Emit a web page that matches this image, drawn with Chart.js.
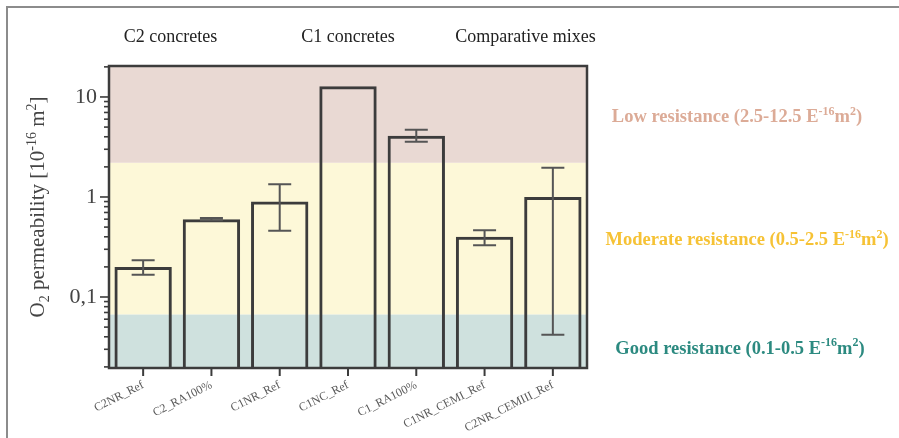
<!DOCTYPE html>
<html>
<head>
<meta charset="utf-8">
<script src="https://cdn.jsdelivr.net/npm/chart.js@4.4.1/dist/chart.umd.min.js"></script>
<style>
  html, body { margin: 0; padding: 0; background: #ffffff; }
  canvas { display: block; }
</style>
</head>
<body>
<canvas id="chart" width="899" height="438"></canvas>
<script>
// Mixes and their O2 permeability (10^-16 m^2)
const categories = ['C2NR_Ref', 'C2_RA100%', 'C1NR_Ref', 'C1NC_Ref', 'C1_RA100%', 'C1NR_CEMI_Ref', 'C2NR_CEMIII_Ref'];
const permeability = [0.20, 0.60, 0.90, 12.8, 4.1, 0.40, 1.0];
const errorLow  = [0.167, 0.585, 0.46, null, 3.57, 0.33, 0.042];
const errorHigh = [0.233, 0.615, 1.34, null, 4.70, 0.465, 1.96];

// Log axis ticks (labelled decades + minor marks)
const yTickValues = [0.02, 0.03, 0.04, 0.05, 0.06, 0.07, 0.08, 0.09,
                     0.1, 0.2, 0.3, 0.4, 0.5, 0.6, 0.7, 0.8, 0.9,
                     1, 2, 3, 4, 5, 6, 7, 8, 9, 10, 20];
const yTickLabels = { '0.1': '0,1', '1': '1', '10': '10' };
const yMin = 0.0195, yMax = 20.4;

// Resistance classes: shaded band limits
const bandLimits = [0.067, 2.2];
const bandColors = ['#cfe1de', '#fdf8d8', '#e9d9d3'];

// Group headings above the plot, placed at fractional category positions
const groupLabels = ['C2 concretes', 'C1 concretes', 'Comparative mixes'];
const groupPositions = [0.4, 3.0, 5.6];

// Class descriptions on the right, at a value on the log axis
const classTexts = [
  [{ t: 'Low resistance (2.5-12.5 E' }, { t: '-16', s: 'sup' }, { t: 'm' }, { t: '2', s: 'sup' }, { t: ')' }],
  [{ t: 'Moderate resistance (0.5-2.5 E' }, { t: '-16', s: 'sup' }, { t: 'm' }, { t: '2', s: 'sup' }, { t: ')' }],
  [{ t: 'Good resistance (0.1-0.5 E' }, { t: '-16', s: 'sup' }, { t: 'm' }, { t: '2', s: 'sup' }, { t: ')' }]
];
const classValues = [6.4, 0.38, 0.031];
const classCenters = [737, 747, 740];
const classColors = ['#dcab97', '#f6c235', '#2c8a80'];

const yTitle = [{ t: 'O' }, { t: '2', s: 'sub' }, { t: ' permeability [10' }, { t: '-16', s: 'sup' }, { t: ' m' }, { t: '2', s: 'sup' }, { t: ']' }];

const SERIF = "'Liberation Serif', 'Times New Roman', serif";
const INK = '#3c3c3c';

function drawRich(ctx, parts, x, y, size, weight, color, align) {
  const base = `${weight} ${size}px ${SERIF}`;
  const small = `${weight} ${Math.round(size * 0.66)}px ${SERIF}`;
  let w = 0;
  parts.forEach(p => { ctx.font = p.s ? small : base; w += ctx.measureText(p.t).width; });
  let cx = align === 'center' ? x - w / 2 : x;
  ctx.fillStyle = color;
  ctx.textAlign = 'left';
  ctx.textBaseline = 'alphabetic';
  parts.forEach(p => {
    ctx.font = p.s ? small : base;
    const dy = p.s === 'sup' ? -size * 0.4 : (p.s === 'sub' ? size * 0.25 : 0);
    ctx.fillText(p.t, cx, y + dy);
    cx += ctx.measureText(p.t).width;
  });
}

const decorations = {
  id: 'decorations',
  beforeDraw(chart) {
    const ctx = chart.ctx;
    ctx.save();
    ctx.strokeStyle = '#8c8c8c';
    ctx.lineWidth = 2;
    ctx.beginPath();
    ctx.moveTo(7, chart.height);
    ctx.lineTo(7, 7);
    ctx.lineTo(chart.width, 7);
    ctx.stroke();
    ctx.restore();
  },
  beforeDatasetsDraw(chart) {
    const { ctx, chartArea: a, scales: { y } } = chart;
    const edges = [yMin, ...bandLimits, yMax];
    ctx.save();
    for (let i = 0; i < bandColors.length; i++) {
      const yb = y.getPixelForValue(edges[i]);
      const yt = y.getPixelForValue(edges[i + 1]);
      ctx.fillStyle = bandColors[i];
      ctx.fillRect(a.left, yt, a.right - a.left, yb - yt);
    }
    ctx.restore();
  },
  afterDatasetsDraw(chart) {
    const { ctx, chartArea: a, scales: { x, y } } = chart;
    ctx.save();
    // error bars
    ctx.strokeStyle = '#555555';
    ctx.lineWidth = 2;
    const cap = 11.5;
    categories.forEach((c, i) => {
      if (errorLow[i] == null) return;
      const px = x.getPixelForValue(i);
      const lo = y.getPixelForValue(errorLow[i]);
      const hi = y.getPixelForValue(errorHigh[i]);
      ctx.beginPath();
      ctx.moveTo(px, lo); ctx.lineTo(px, hi);
      ctx.moveTo(px - cap, lo); ctx.lineTo(px + cap, lo);
      ctx.moveTo(px - cap, hi); ctx.lineTo(px + cap, hi);
      ctx.stroke();
    });
    // plot frame
    ctx.strokeStyle = INK;
    ctx.lineWidth = 2.5;
    ctx.strokeRect(a.left, a.top, a.right - a.left, a.bottom - a.top);
    // y tick marks
    ctx.lineWidth = 1.6;
    y.ticks.forEach(t => {
      const py = y.getPixelForValue(t.value);
      const len = yTickLabels[String(t.value)] ? 9 : 5;
      ctx.beginPath();
      ctx.moveTo(a.left, py); ctx.lineTo(a.left - len, py);
      ctx.stroke();
    });
    // x tick marks
    ctx.lineWidth = 2;
    categories.forEach((c, i) => {
      const px = x.getPixelForValue(i);
      ctx.beginPath();
      ctx.moveTo(px, a.bottom); ctx.lineTo(px, a.bottom + 8);
      ctx.stroke();
    });
    ctx.restore();
  },
  afterDraw(chart) {
    const { ctx, chartArea: a, scales: { x, y } } = chart;
    ctx.save();
    // y axis title
    ctx.translate(44, 207);
    ctx.rotate(-Math.PI / 2);
    drawRich(ctx, yTitle, 0, 0, 21, 'normal', '#444444', 'center');
    ctx.restore();
    ctx.save();
    // group headings
    ctx.font = `18px ${SERIF}`;
    ctx.fillStyle = '#222222';
    ctx.textAlign = 'center';
    ctx.textBaseline = 'alphabetic';
    groupLabels.forEach((g, i) => {
      const px = x.getPixelForValue(0) + groupPositions[i] * (x.getPixelForValue(1) - x.getPixelForValue(0));
      ctx.fillText(g, px, 42);
    });
    // resistance class descriptions
    classTexts.forEach((parts, i) => {
      drawRich(ctx, parts, classCenters[i], y.getPixelForValue(classValues[i]) + 6, 18.5, 'bold', classColors[i], 'center');
    });
    ctx.restore();
  }
};

new Chart(document.getElementById('chart'), {
  type: 'bar',
  data: {
    labels: categories,
    datasets: [{
      data: permeability,
      backgroundColor: 'rgba(0,0,0,0)',
      borderColor: INK,
      borderWidth: 3,
      borderSkipped: 'bottom',
      barPercentage: 0.84,
      categoryPercentage: 1.0
    }]
  },
  options: {
    responsive: false,
    animation: false,
    events: [],
    layout: { padding: { left: 0, top: 66, right: 312, bottom: 0 } },
    plugins: { legend: { display: false }, tooltip: { enabled: false } },
    scales: {
      x: {
        grid: { display: false, drawTicks: false },
        border: { display: false },
        ticks: {
          autoSkip: false,
          maxRotation: 27,
          minRotation: 27,
          padding: 10,
          color: '#5a5a5a',
          font: { family: SERIF, size: 12 }
        },
        afterFit(s) { s.height = 70; }
      },
      y: {
        type: 'logarithmic',
        min: yMin,
        max: yMax,
        grid: { display: false, drawTicks: false },
        border: { display: false },
        afterBuildTicks(s) {
          s.ticks = yTickValues.map(v => ({ value: v, major: !!yTickLabels[String(v)] }));
        },
        ticks: {
          autoSkip: false,
          padding: 12,
          color: '#444444',
          font: { family: SERIF, size: 22 },
          callback(v) { return yTickLabels[String(v)] || ''; }
        },
        afterFit(s) { s.width = 109; }
      }
    }
  },
  plugins: [decorations]
});
</script>
</body>
</html>
